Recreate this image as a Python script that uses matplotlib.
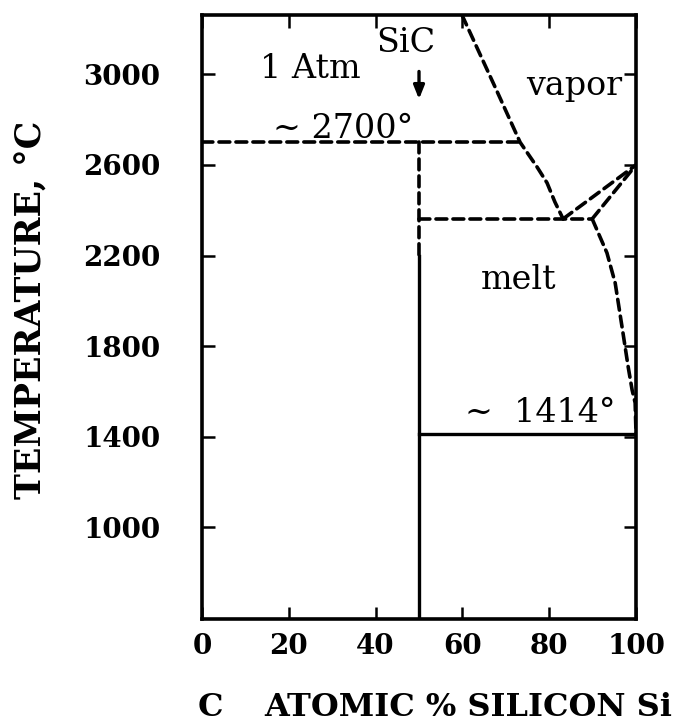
import matplotlib
matplotlib.use("Agg")
import matplotlib.pyplot as plt

# Si-C phase diagram at 1 atm
vapor_x = [59.9, 67.5, 73.3, 77.2, 79.5, 81.3, 83.2]
vapor_t = [3262, 2945, 2700, 2591, 2521, 2437, 2362]

liquidus_x = [89.9, 93.3, 95.2, 97.0, 98.2, 99.1, 99.8, 100]
liquidus_t = [2362, 2212, 2079, 1858, 1708, 1607, 1550, 1414]

sic_x = 50
t_decomp = 2700      # ~2700 deg horizontal
t_peritectic = 2362
t_sic_solid = 2200   # SiC line turns solid below this
t_si_melt = 1414
t_vapor_edge = 2600  # two dashed lines meet the Si side here

xticks = [0, 20, 40, 60, 80, 100]
yticks = [1000, 1400, 1800, 2200, 2600, 3000]

plt.rcParams['font.family'] = ['DejaVu Serif']
fig = plt.figure(figsize=(6.79, 7.24), dpi=100)
ax = fig.add_axes([0.2975, 0.145, 0.6392, 0.8343])

dash = dict(color='black', lw=2.6, dashes=(3.0, 1.7), dash_capstyle='round')
solid = dict(color='black', lw=2.4)

ax.plot([0, 73.3], [t_decomp, t_decomp], **dash)
ax.plot([sic_x, sic_x], [t_decomp, t_sic_solid], **dash)
ax.plot([sic_x, sic_x], [t_sic_solid, 0], **solid)
ax.plot([sic_x, liquidus_x[0]], [t_peritectic, t_peritectic], **dash)
ax.plot(vapor_x, vapor_t, **dash)
ax.plot(liquidus_x, liquidus_t, **dash)
ax.plot([vapor_x[-1], 100], [vapor_t[-1], t_vapor_edge], **dash)
ax.plot([liquidus_x[0], 100], [liquidus_t[0], t_vapor_edge], **dash)
ax.plot([sic_x, 100], [t_si_melt, t_si_melt], **solid)

ax.annotate('', xy=(sic_x, 2878), xytext=(sic_x, 3025),
            arrowprops=dict(arrowstyle='-|>,head_length=0.8,head_width=0.32', color='black', lw=2.4))

tf = dict(fontsize=24, ha='center', va='center', color='black')
ax.text(24.9, 3025, '1 Atm', **tf)
ax.text(47.0, 3140, 'SiC', **tf)
ax.text(32.5, 2758, '~ 2700°', **tf)
ax.text(85.7, 2950, 'vapor', **tf)
ax.text(73.0, 2092, 'melt', **tf)
ax.text(77.9, 1505, '~  1414°', **tf)

ax.set_xlim(0, 100)
ax.set_ylim(596, 3262)
ax.set_xticks(xticks)
ax.set_yticks(yticks)
ax.tick_params(direction='in', length=9, width=1.8, top=True, right=True, labelsize=20)
ax.tick_params(axis='y', pad=30)
ax.tick_params(axis='x', pad=10)
for lab in ax.get_xticklabels() + ax.get_yticklabels():
    lab.set_fontweight('bold')
for s in ax.spines.values():
    s.set_linewidth(2.6)

fig.text(32 / 679, 1 - 310 / 724, 'TEMPERATURE, °C', rotation=90, ha='center', va='center',
         fontsize=25, fontweight='bold')
fig.text(210 / 679, 1 - 707 / 724, 'C', ha='center', va='center', fontsize=23, fontweight='bold')
fig.text(468 / 679, 1 - 707 / 724, 'ATOMIC % SILICON Si', ha='center', va='center',
         fontsize=23, fontweight='bold')

fig.savefig('out.png', dpi=100)
